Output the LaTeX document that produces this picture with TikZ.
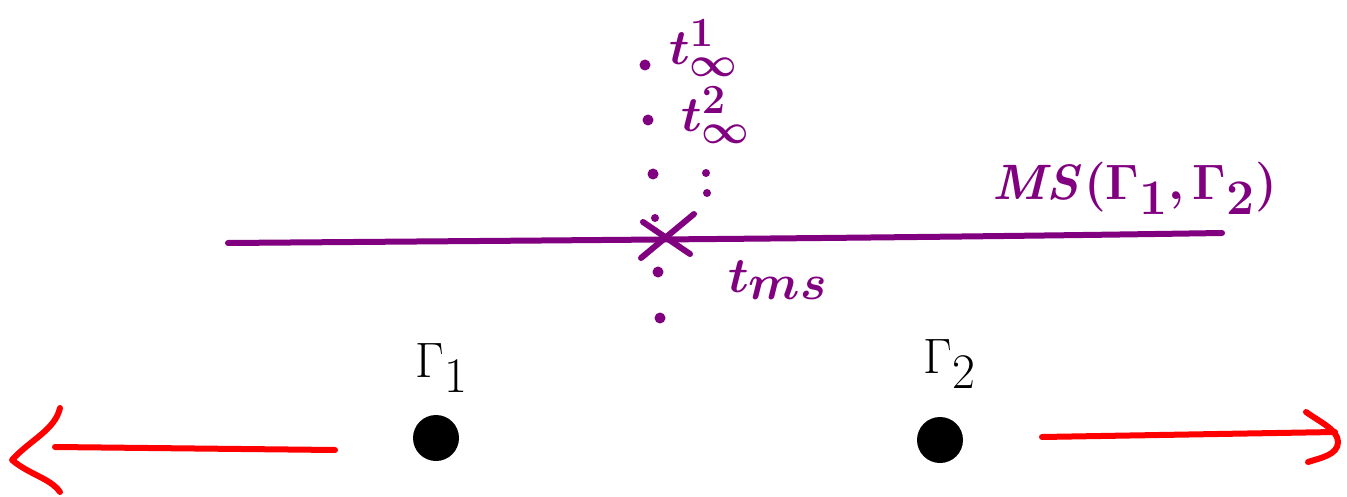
\documentclass[tikz,border=0pt]{standalone}
\usepackage{amsmath}
\usepackage{bm}
\definecolor{pur}{RGB}{128,0,128}
\definecolor{myred}{RGB}{255,0,0}
\begin{document}
\begin{tikzpicture}[x=0.5pt,y=-0.5pt,
  purline/.style={draw=pur,line width=3pt,line cap=round},
  redline/.style={draw=myred,line width=3pt,line cap=round,line join=round},
  purdot/.style={circle,fill=pur,inner sep=0pt,minimum size=5.5pt},
  smalldot/.style={circle,fill=pur,inner sep=0pt,minimum size=4pt},
  bigdot/.style={circle,fill=black,inner sep=0pt,minimum size=23pt},
  purlabel/.style={text=pur,inner sep=0pt},
  blklabel/.style={text=black,inner sep=0pt}]
\useasboundingbox (0,0) rectangle (1347,497);
% horizontal line
\coordinate (l0) at (228,243);
\coordinate (l1) at (1222,233);
\draw[purline] (l0) .. controls (600,240) and (900,238) .. (l1);
% dots column
\node[purdot] (d1) at (645,65) {};
\node[purdot] (d2) at (648,120) {};
\node[purdot] (d3) at (653,174) {};
\node[smalldot] (d4) at (655,218) {};
\node[purdot] (d5) at (658,272) {};
\node[purdot] (d6) at (660,318) {};
\node[smalldot] (v1) at (706,173) {};
\node[smalldot] (v2) at (707,193) {};
% cross
\coordinate (x1) at (643,222);
\coordinate (x2) at (690,254);
\coordinate (x3) at (694,214);
\coordinate (x4) at (641,258);
\draw[purline] (x1) -- (x2);
\draw[purline] (x3) -- (x4);
% labels
\node[purlabel] (tinf1) at (704,48) {\fontsize{28}{32}\selectfont$\bm{t^{1}_{\infty}}$};
\node[purlabel] (tinf2) at (716,115) {\fontsize{28}{32}\selectfont$\bm{t^{2}_{\infty}}$};
\node[purlabel] (tms) at (778,280) {\fontsize{42}{46}\selectfont$\bm{t_{ms}}$};
\node[purlabel] (ms) at (1135,188) {\fontsize{45}{50}\selectfont$\bm{\mathit{MS}(\Gamma_{1},\Gamma_{2})}$};
% points
\node[bigdot] (g1) at (436,438) {};
\node[bigdot] (g2) at (940,440) {};
\node[blklabel] (lg1) at (442,368) {\fontsize{40}{44}\selectfont$\Gamma_{1}$};
\node[blklabel] (lg2) at (950,364) {\fontsize{40}{44}\selectfont$\Gamma_{2}$};
% left arrow
\coordinate (a0) at (335,450);
\coordinate (a1) at (55,447);
\coordinate (h1) at (60,408);
\coordinate (h2) at (12,460);
\coordinate (h3) at (60,492);
\draw[redline] (a0) -- (a1);
\draw[redline] (h1) .. controls (55,430) and (30,440) .. (h2) .. controls (30,475) and (50,478) .. (h3);
% right arrow
\coordinate (b0) at (1042,437);
\coordinate (b1) at (1335,432);
\coordinate (k1) at (1306,412);
\coordinate (k2) at (1338,442);
\coordinate (k3) at (1308,462);
\draw[redline] (b0) -- (b1);
\draw[redline] (k1) .. controls (1320,422) and (1338,430) .. (k2) .. controls (1338,455) and (1320,458) .. (k3);
\end{tikzpicture}
\end{document}
